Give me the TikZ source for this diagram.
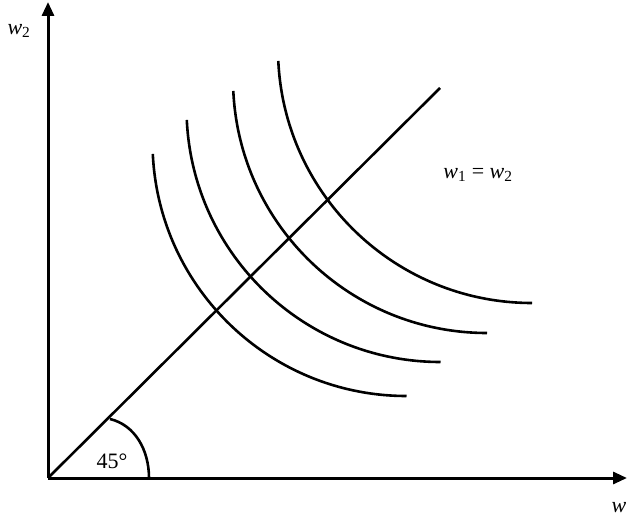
\documentclass[tikz,border=0pt]{standalone}
\usepackage{fontspec}
\setmainfont{Liberation Serif}
\usetikzlibrary{arrows.meta}
\begin{document}
\begin{tikzpicture}[x=1pt,y=-1pt,
  axis/.style={line width=3pt,-{Triangle[length=14pt,width=12pt]}},
  curve/.style={line width=2.6pt},
  lbl/.style={inner sep=0pt,font=\fontsize{22}{26}\selectfont}]
\useasboundingbox (0,0) rectangle (627,519);
\coordinate (O) at (48,478);
\coordinate (ytip) at (48,2);
\coordinate (xtip) at (627,478);
\coordinate (dend) at (440,88);
\draw[axis] (O) -- (ytip);
\draw[axis] (O) -- (xtip);
\draw[curve] (O) -- (dend);
% indifference curves (circular arcs)
\draw[curve] (406.5,142) ++(177.3:254) arc[start angle=177.3,end angle=90,radius=254];
\draw[curve] (440.5,108) ++(177.3:254) arc[start angle=177.3,end angle=90,radius=254];
\draw[curve] (487,79) ++(177.3:254) arc[start angle=177.3,end angle=90,radius=254];
\draw[curve] (532,49) ++(177.3:254) arc[start angle=177.3,end angle=90,radius=254];
% angle mark
\coordinate (a1) at (110,419);
\coordinate (a2) at (149,478);
\draw[curve] (a1) .. controls (135,425) and (149,450) .. (a2);
% labels
\node[lbl] (lw2) at (19,31) {\textit{w}\textsubscript{2}};
\node[lbl] (lw) at (619,508) {\textit{w}};
\node[lbl] (leq) at (478,175) {\textit{w}\textsubscript{1} = \textit{w}\textsubscript{2}};
\node[lbl] (ang) at (112,461) {45°};
\end{tikzpicture}
\end{document}
